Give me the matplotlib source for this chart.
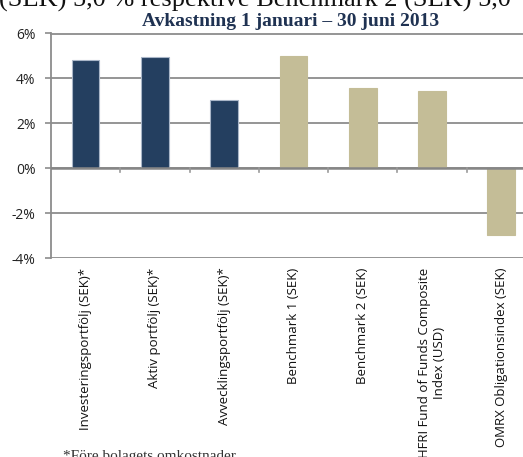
#!/usr/bin/env python3
"""Avkastning 1 januari - 30 juni 2013, bar chart per portfolio/benchmark."""

import matplotlib.pyplot as plt
from matplotlib.ticker import FuncFormatter, FixedLocator

CATEGORIES = [
    "Investeringsportfölj (SEK)*",
    "Aktiv portfölj (SEK)*",
    "Avvecklingsportfölj (SEK)*",
    "Benchmark 1 (SEK)",
    "Benchmark 2 (SEK)",
    "HFRI Fund of Funds Composite\nIndex (USD)",
    "OMRX Obligationsindex (SEK)",
]
RETURNS = [4.83, 4.96, 3.05, 4.99, 3.59, 3.46, -2.98]
IS_PORTFOLIO = [True, True, True, False, False, False, False]
Y_TICKS = [-4, -2, 0, 2, 4, 6]

NAVY = "#243f60"
TAN = "#c4bd97"
GRID = "#8c8c8c"
TITLE_COLOR = "#1f3252"

W, H = 523, 457


def main():
    fig = plt.figure(figsize=(W / 100, H / 100), dpi=100)
    fig.patch.set_facecolor("white")

    # axes runs off the right edge, as in the cropped original
    left, right, top, bottom = 51, 536, 33.5, 258
    ax = fig.add_axes([left / W, 1 - bottom / H, (right - left) / W, (bottom - top) / H])

    x = list(range(len(CATEGORIES)))
    colors = [NAVY if p else TAN for p in IS_PORTFOLIO]
    edges = ["#a9b6c8" if p else TAN for p in IS_PORTFOLIO]
    ax.bar(x, RETURNS, width=0.4, color=colors, edgecolor=edges, linewidth=0.8, zorder=3)

    ax.set_xlim(-0.5, len(CATEGORIES) - 0.5)
    ax.set_ylim(-4, 6)
    ax.yaxis.set_major_locator(FixedLocator(Y_TICKS))
    ax.yaxis.set_major_formatter(FuncFormatter(lambda v, _: f"{v:.0f}%"))
    ax.grid(axis="y", color=GRID, linewidth=1.3, zorder=0)
    ax.axhline(0, color="#868686", linewidth=1.8, zorder=4)

    for s in ("right", "bottom"):
        ax.spines[s].set_visible(False)
    ax.spines["top"].set_color(GRID)
    ax.spines["top"].set_linewidth(1.3)
    ax.spines["left"].set_color(GRID)
    ax.spines["left"].set_linewidth(1.3)

    ax.tick_params(axis="y", length=4, width=1.2, color=GRID, labelsize=10,
                   labelcolor="#222222", pad=7)
    ax.set_xticks([])
    for lab in ax.get_yticklabels():
        lab.set_fontfamily("Open Sans")

    # short tick marks between categories, hanging below the zero line
    for b in x[:-1]:
        ax.plot([b + 0.5, b + 0.5], [0, -0.17], color="#9a9a9a", linewidth=1.2,
                zorder=4, clip_on=False)

    # category labels, rotated, hanging below the plot
    for i, name in enumerate(CATEGORIES):
        ax.annotate(name, xy=(i, -4), xycoords="data", xytext=(0, -7),
                    textcoords="offset points", rotation=90, ha="center", va="top",
                    multialignment="center", fontsize=9.5, family="Open Sans",
                    color="#111111", annotation_clip=False)

    fig.text(291 / W, 1 - 26 / H, "Avkastning 1 januari – 30 juni 2013",
             ha="center", va="baseline", fontsize=14, fontweight="bold",
             family="Liberation Serif", color=TITLE_COLOR)

    # leftover line of body text cut by the top edge
    fig.text(-1 / W, 1 - 7 / H, "(SEK) 5,0 % respektive Benchmark 2 (SEK) 5,0",
             ha="left", va="baseline", fontsize=19, family="Liberation Serif",
             color="#111111")

    fig.text(63 / W, 1 - 460 / H, "*Före bolagets omkostnader",
             ha="left", va="baseline", fontsize=11, family="Liberation Serif",
             color="#333333")

    fig.savefig("out.png", dpi=100, facecolor="white")


if __name__ == "__main__":
    main()
